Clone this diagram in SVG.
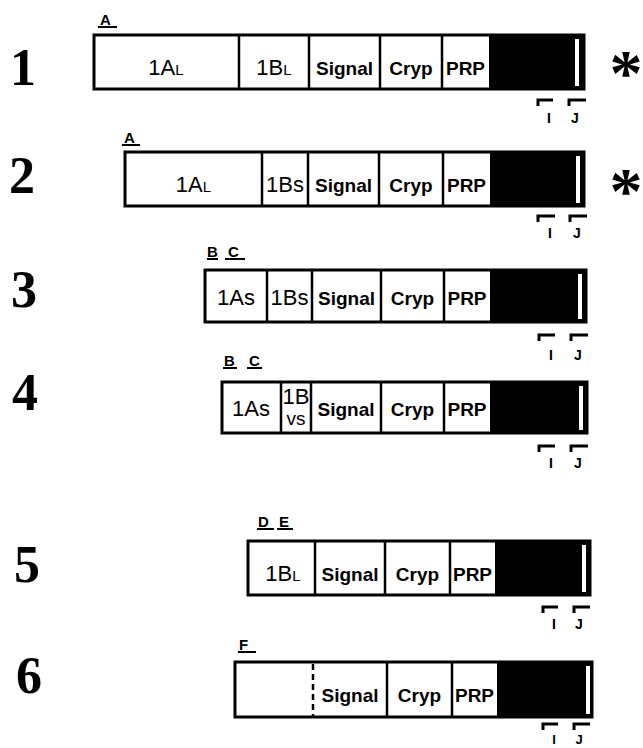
<svg xmlns="http://www.w3.org/2000/svg" width="643" height="748" viewBox="0 0 643 748">
<style>
.box{fill:#fff;stroke:#000;stroke-width:3}
.blk{fill:#000}
.wb{fill:#fff}
.div{stroke:#000;stroke-width:2.5}
.dash{stroke:#000;stroke-width:2.5;stroke-dasharray:6 4}
.seg{font-family:"Liberation Sans",Arial,sans-serif;font-size:22px;text-anchor:middle;fill:#000}
.sm{font-size:15px}
.bd{font-family:"Liberation Sans",Arial,sans-serif;font-size:19px;font-weight:bold;text-anchor:middle;fill:#000}
.num{font-family:"Liberation Serif","Times New Roman",serif;font-size:52px;font-weight:bold;text-anchor:middle;fill:#000}
.lab{font-family:"Liberation Sans",Arial,sans-serif;font-size:15px;font-weight:bold;fill:#000}
.ul{stroke:#000;stroke-width:2}
.tick{fill:none;stroke:#000;stroke-width:3}
.tl{font-family:"Liberation Sans",Arial,sans-serif;font-size:14px;font-weight:bold;text-anchor:middle;fill:#000}
.ast{font-family:"Liberation Serif","Times New Roman",serif;font-size:66px;font-weight:bold;text-anchor:middle;fill:#000}
</style>
<rect width="643" height="748" fill="#fff"/>

<g id="row-1">
<text class="num" x="23" y="85">1</text>
<text class="lab" x="100" y="25">A</text><line class="ul" x1="98" y1="27" x2="117" y2="27"/>
<rect class="box" x="94" y="35" width="490" height="54"/>
<rect class="blk" x="489" y="35" width="95" height="54"/>
<rect class="wb" x="575" y="39" width="4" height="47"/>
<line class="div" x1="239" y1="35" x2="239" y2="89"/>
<line class="div" x1="309" y1="35" x2="309" y2="89"/>
<line class="div" x1="380" y1="35" x2="380" y2="89"/>
<line class="div" x1="442" y1="35" x2="442" y2="89"/>
<text class="seg" x="166" y="75">1A<tspan class="sm">L</tspan></text>
<text class="seg" x="274" y="75">1B<tspan class="sm">L</tspan></text>
<text class="bd" x="344.5" y="75">Signal</text>
<text class="bd" x="411" y="75">Cryp</text>
<text class="bd" x="465.5" y="75">PRP</text>
<path class="tick" d="M538,106 V100 H553"/>
<path class="tick" d="M569,106 V100 H586"/>
<text class="tl" x="549" y="123">I</text>
<text class="tl" x="575" y="123">J</text>
<text class="ast" x="626" y="95">*</text>
</g>

<g id="row-2">
<text class="num" x="22" y="193">2</text>
<text class="lab" x="124" y="143">A</text><line class="ul" x1="122" y1="145" x2="140" y2="145"/>
<rect class="box" x="125" y="152" width="459" height="54"/>
<rect class="blk" x="490" y="152" width="94" height="54"/>
<rect class="wb" x="576" y="156" width="4" height="47"/>
<line class="div" x1="262" y1="152" x2="262" y2="206"/>
<line class="div" x1="308" y1="152" x2="308" y2="206"/>
<line class="div" x1="379" y1="152" x2="379" y2="206"/>
<line class="div" x1="443" y1="152" x2="443" y2="206"/>
<text class="seg" x="193.5" y="192">1A<tspan class="sm">L</tspan></text>
<text class="seg" x="285" y="192">1Bs</text>
<text class="bd" x="343.5" y="192">Signal</text>
<text class="bd" x="411" y="192">Cryp</text>
<text class="bd" x="466.5" y="192">PRP</text>
<path class="tick" d="M538,222 V216 H555"/>
<path class="tick" d="M570,222 V216 H587"/>
<text class="tl" x="550" y="238">I</text>
<text class="tl" x="577" y="238">J</text>
<text class="ast" x="626" y="213">*</text>
</g>

<g id="row-3">
<text class="num" x="24" y="307">3</text>
<text class="lab" x="207" y="257">B</text><line class="ul" x1="207" y1="259" x2="218" y2="259"/>
<text class="lab" x="228" y="257">C</text><line class="ul" x1="225" y1="259" x2="245" y2="259"/>
<rect class="box" x="205" y="270" width="381" height="52"/>
<rect class="blk" x="490" y="270" width="96" height="52"/>
<rect class="wb" x="578" y="274" width="4" height="45"/>
<line class="div" x1="267" y1="270" x2="267" y2="322"/>
<line class="div" x1="312" y1="270" x2="312" y2="322"/>
<line class="div" x1="381" y1="270" x2="381" y2="322"/>
<line class="div" x1="444" y1="270" x2="444" y2="322"/>
<text class="seg" x="236" y="305">1As</text>
<text class="seg" x="289.5" y="305">1Bs</text>
<text class="bd" x="346.5" y="305">Signal</text>
<text class="bd" x="412.5" y="305">Cryp</text>
<text class="bd" x="467" y="305">PRP</text>
<path class="tick" d="M539,341 V335 H555"/>
<path class="tick" d="M571,341 V335 H588"/>
<text class="tl" x="551" y="360">I</text>
<text class="tl" x="578" y="360">J</text>
</g>

<g id="row-4">
<text class="num" x="25" y="410">4</text>
<text class="lab" x="224" y="366">B</text><line class="ul" x1="223" y1="368" x2="237" y2="368"/>
<text class="lab" x="249" y="366">C</text><line class="ul" x1="247" y1="368" x2="262" y2="368"/>
<rect class="box" x="222" y="382" width="365" height="51"/>
<rect class="blk" x="490" y="382" width="97" height="51"/>
<rect class="wb" x="579" y="386" width="4" height="44"/>
<line class="div" x1="281" y1="382" x2="281" y2="433"/>
<line class="div" x1="311" y1="382" x2="311" y2="433"/>
<line class="div" x1="381" y1="382" x2="381" y2="433"/>
<line class="div" x1="444" y1="382" x2="444" y2="433"/>
<text class="seg" x="251" y="416">1As</text>
<text class="seg" x="296" y="404">1B</text>
<text class="seg" x="296" y="425" style="font-size:19px">vs</text>
<text class="bd" x="346" y="416">Signal</text>
<text class="bd" x="412.5" y="416">Cryp</text>
<text class="bd" x="467" y="416">PRP</text>
<path class="tick" d="M539,452 V446 H555"/>
<path class="tick" d="M571,452 V446 H588"/>
<text class="tl" x="551" y="468">I</text>
<text class="tl" x="578" y="468">J</text>
</g>

<g id="row-5">
<text class="num" x="27" y="582">5</text>
<text class="lab" x="258" y="527">D</text><line class="ul" x1="257" y1="529" x2="274" y2="529"/>
<text class="lab" x="279" y="527">E</text><line class="ul" x1="277" y1="529" x2="293" y2="529"/>
<rect class="box" x="248" y="541" width="342" height="54"/>
<rect class="blk" x="495" y="541" width="95" height="54"/>
<rect class="wb" x="582" y="545" width="4" height="47"/>
<line class="div" x1="315" y1="541" x2="315" y2="595"/>
<line class="div" x1="385" y1="541" x2="385" y2="595"/>
<line class="div" x1="450" y1="541" x2="450" y2="595"/>
<text class="seg" x="283" y="581">1B<tspan class="sm">L</tspan></text>
<text class="bd" x="350" y="581">Signal</text>
<text class="bd" x="417.5" y="581">Cryp</text>
<text class="bd" x="472.5" y="581">PRP</text>
<path class="tick" d="M543,613 V607 H558"/>
<path class="tick" d="M574,613 V607 H590"/>
<text class="tl" x="554" y="629">I</text>
<text class="tl" x="579" y="629">J</text>
</g>

<g id="row-6">
<text class="num" x="29" y="693">6</text>
<text class="lab" x="239" y="650">F</text><line class="ul" x1="238" y1="652" x2="256" y2="652"/>
<rect class="box" x="235" y="662" width="357" height="55"/>
<rect class="blk" x="497" y="662" width="95" height="55"/>
<rect class="wb" x="586" y="666" width="4" height="48"/>
<line class="dash" x1="313" y1="664" x2="313" y2="716"/>
<line class="div" x1="387" y1="662" x2="387" y2="717"/>
<line class="div" x1="452" y1="662" x2="452" y2="717"/>
<text class="bd" x="350" y="702">Signal</text>
<text class="bd" x="419.5" y="702">Cryp</text>
<text class="bd" x="474.5" y="702">PRP</text>
<path class="tick" d="M543,730 V724 H558"/>
<path class="tick" d="M574,730 V724 H590"/>
<text class="tl" x="554" y="744" style="font-size:13px">I</text>
<text class="tl" x="579" y="744" style="font-size:13px">J</text>
</g>

<g id="connectors"></g>
</svg>
